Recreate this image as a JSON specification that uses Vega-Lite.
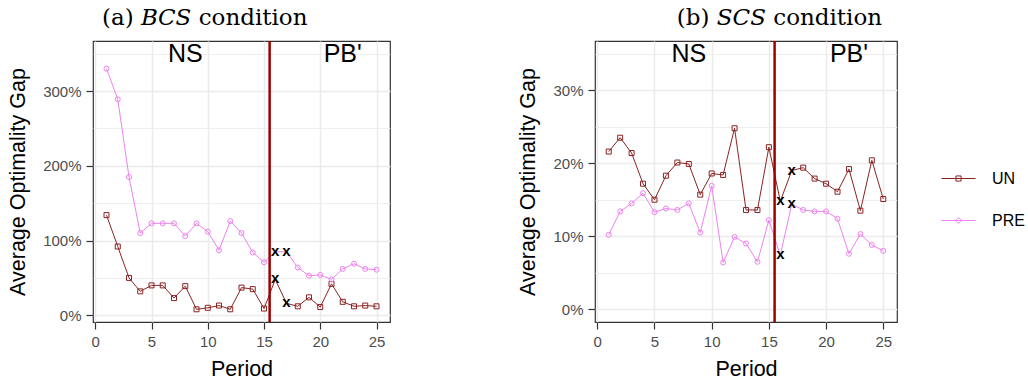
{
  "$schema": "https://vega.github.io/schema/vega-lite/v6.json",
  "background": "white",
  "padding": {"left": 7, "top": 6, "right": 5, "bottom": 5},
  "datasets": {
    "bcs": [
      {"period":1,"series":"UN","value":1.34},{"period":2,"series":"UN","value":0.92},{"period":3,"series":"UN","value":0.50},{"period":4,"series":"UN","value":0.32},{"period":5,"series":"UN","value":0.40},
      {"period":6,"series":"UN","value":0.40},{"period":7,"series":"UN","value":0.23},{"period":8,"series":"UN","value":0.39},{"period":9,"series":"UN","value":0.08},{"period":10,"series":"UN","value":0.10},
      {"period":11,"series":"UN","value":0.13},{"period":12,"series":"UN","value":0.08},{"period":13,"series":"UN","value":0.37},{"period":14,"series":"UN","value":0.35},{"period":15,"series":"UN","value":0.09},
      {"period":16,"series":"UN","value":0.48},{"period":17,"series":"UN","value":0.16},{"period":18,"series":"UN","value":0.12},{"period":19,"series":"UN","value":0.24},{"period":20,"series":"UN","value":0.11},
      {"period":21,"series":"UN","value":0.42},{"period":22,"series":"UN","value":0.18},{"period":23,"series":"UN","value":0.12},{"period":24,"series":"UN","value":0.13},{"period":25,"series":"UN","value":0.12},
      {"period":1,"series":"PRE","value":3.30},{"period":2,"series":"PRE","value":2.89},{"period":3,"series":"PRE","value":1.85},{"period":4,"series":"PRE","value":1.10},{"period":5,"series":"PRE","value":1.23},
      {"period":6,"series":"PRE","value":1.23},{"period":7,"series":"PRE","value":1.23},{"period":8,"series":"PRE","value":1.06},{"period":9,"series":"PRE","value":1.23},{"period":10,"series":"PRE","value":1.12},
      {"period":11,"series":"PRE","value":0.87},{"period":12,"series":"PRE","value":1.26},{"period":13,"series":"PRE","value":1.10},{"period":14,"series":"PRE","value":0.84},{"period":15,"series":"PRE","value":0.71},
      {"period":16,"series":"PRE","value":0.85},{"period":17,"series":"PRE","value":0.85},{"period":18,"series":"PRE","value":0.64},{"period":19,"series":"PRE","value":0.53},{"period":20,"series":"PRE","value":0.54},
      {"period":21,"series":"PRE","value":0.48},{"period":22,"series":"PRE","value":0.62},{"period":23,"series":"PRE","value":0.69},{"period":24,"series":"PRE","value":0.62},{"period":25,"series":"PRE","value":0.61}
    ],
    "scs": [
      {"period":1,"series":"UN","value":0.216},{"period":2,"series":"UN","value":0.235},{"period":3,"series":"UN","value":0.214},{"period":4,"series":"UN","value":0.172},{"period":5,"series":"UN","value":0.150},
      {"period":6,"series":"UN","value":0.183},{"period":7,"series":"UN","value":0.201},{"period":8,"series":"UN","value":0.199},{"period":9,"series":"UN","value":0.157},{"period":10,"series":"UN","value":0.186},
      {"period":11,"series":"UN","value":0.184},{"period":12,"series":"UN","value":0.248},{"period":13,"series":"UN","value":0.136},{"period":14,"series":"UN","value":0.136},{"period":15,"series":"UN","value":0.222},
      {"period":16,"series":"UN","value":0.148},{"period":17,"series":"UN","value":0.190},{"period":18,"series":"UN","value":0.194},{"period":19,"series":"UN","value":0.179},{"period":20,"series":"UN","value":0.172},
      {"period":21,"series":"UN","value":0.161},{"period":22,"series":"UN","value":0.192},{"period":23,"series":"UN","value":0.135},{"period":24,"series":"UN","value":0.204},{"period":25,"series":"UN","value":0.151},
      {"period":1,"series":"PRE","value":0.102},{"period":2,"series":"PRE","value":0.134},{"period":3,"series":"PRE","value":0.145},{"period":4,"series":"PRE","value":0.159},{"period":5,"series":"PRE","value":0.133},
      {"period":6,"series":"PRE","value":0.138},{"period":7,"series":"PRE","value":0.136},{"period":8,"series":"PRE","value":0.145},{"period":9,"series":"PRE","value":0.105},{"period":10,"series":"PRE","value":0.169},
      {"period":11,"series":"PRE","value":0.064},{"period":12,"series":"PRE","value":0.099},{"period":13,"series":"PRE","value":0.090},{"period":14,"series":"PRE","value":0.065},{"period":15,"series":"PRE","value":0.122},
      {"period":16,"series":"PRE","value":0.074},{"period":17,"series":"PRE","value":0.144},{"period":18,"series":"PRE","value":0.136},{"period":19,"series":"PRE","value":0.134},{"period":20,"series":"PRE","value":0.134},
      {"period":21,"series":"PRE","value":0.124},{"period":22,"series":"PRE","value":0.076},{"period":23,"series":"PRE","value":0.103},{"period":24,"series":"PRE","value":0.088},{"period":25,"series":"PRE","value":0.080}
    ],
    "bcs_labels": [{"period":8,"value":3.5,"label":"NS"},{"period":22,"value":3.5,"label":"PB'"}],
    "scs_labels": [{"period":8,"value":0.35,"label":"NS"},{"period":22,"value":0.35,"label":"PB'"}]
  },
  "hconcat": [
    {
      "width": 297,
      "height": 281,
      "title": {"text": "(a) 𝐵𝐶𝑆 condition", "dx": 6},
      "layer": [
        {
          "data": {"name": "bcs"},
          "mark": {"type": "line", "strokeWidth": 1, "clip": true},
          "encoding": {
            "x": {"field": "period", "type": "quantitative", "scale": {"domain": [-0.2, 26.2], "nice": false, "zero": false},
                  "axis": {"title": "Period", "values": [0,2.5,5,7.5,10,12.5,15,17.5,20,22.5,25],
                           "labelExpr": "datum.value % 5 === 0 ? datum.label : ''",
                           "gridWidth": {"condition": {"test": "datum.value % 5 === 0", "value": 1.5}, "value": 0.8},
                           "tickOpacity": {"condition": {"test": "datum.value % 5 === 0", "value": 1}, "value": 0}}},
            "y": {"field": "value", "type": "quantitative", "scale": {"domain": [-0.09, 3.67], "nice": false, "zero": false},
                  "axis": {"title": "Average Optimality Gap", "format": ".0%", "values": [0,0.5,1,1.5,2,2.5,3,3.5],
                           "labelExpr": "round(datum.value*10) % 10 === 0 ? datum.label : ''",
                           "gridWidth": {"condition": {"test": "round(datum.value*10) % 10 === 0", "value": 1.5}, "value": 0.8},
                           "tickOpacity": {"condition": {"test": "round(datum.value*10) % 10 === 0", "value": 1}, "value": 0}}},
            "color": {"field": "series", "type": "nominal", "scale": {"domain": ["UN","PRE"], "range": ["#8B2323","#EE82EE"]}}
          }
        },
        {
          "data": {"name": "bcs"},
          "transform": [{"filter": "datum.period != 16 && datum.period != 17"}],
          "mark": {"type": "point", "filled": false, "size": 25, "strokeWidth": 1, "opacity": 1},
          "encoding": {
            "x": {"field": "period", "type": "quantitative"},
            "y": {"field": "value", "type": "quantitative"},
            "color": {"field": "series", "type": "nominal"},
            "shape": {"condition": {"test": "datum.series === 'UN'", "value": "square"}, "value": "circle"}
          }
        },
        {
          "data": {"values": [{}]},
          "mark": {"type": "rule", "color": "#9E0000", "strokeWidth": 2.5},
          "encoding": {"x": {"datum": 15.5}}
        },
        {
          "data": {"name": "bcs"},
          "transform": [{"filter": "datum.period == 16 || datum.period == 17"}],
          "mark": {"type": "text", "text": "x", "font": "Liberation Sans", "fontWeight": "bold", "fontSize": 15, "baseline": "middle", "align": "center", "color": "black", "dy": -1},
          "encoding": {
            "x": {"field": "period", "type": "quantitative"},
            "y": {"field": "value", "type": "quantitative"}
          }
        },
        {
          "data": {"name": "bcs_labels"},
          "mark": {"type": "text", "font": "Liberation Sans", "fontSize": 25, "baseline": "middle", "align": "center", "color": "black"},
          "encoding": {
            "x": {"field": "period", "type": "quantitative"},
            "y": {"field": "value", "type": "quantitative"},
            "text": {"field": "label"}
          }
        }
      ]
    },
    {
      "width": 302,
      "height": 281,
      "title": {"text": "(b) 𝑆𝐶𝑆 condition", "dx": 72},
      "layer": [
        {
          "data": {"name": "scs"},
          "mark": {"type": "line", "strokeWidth": 1, "clip": true},
          "encoding": {
            "x": {"field": "period", "type": "quantitative", "scale": {"domain": [-0.2, 26.2], "nice": false, "zero": false},
                  "axis": {"title": "Period", "values": [0,2.5,5,7.5,10,12.5,15,17.5,20,22.5,25],
                           "labelExpr": "datum.value % 5 === 0 ? datum.label : ''",
                           "gridWidth": {"condition": {"test": "datum.value % 5 === 0", "value": 1.5}, "value": 0.8},
                           "tickOpacity": {"condition": {"test": "datum.value % 5 === 0", "value": 1}, "value": 0}}},
            "y": {"field": "value", "type": "quantitative", "scale": {"domain": [-0.0175, 0.3675], "nice": false, "zero": false},
                  "axis": {"title": "Average Optimality Gap", "format": ".0%", "values": [0,0.05,0.1,0.15,0.2,0.25,0.3,0.35],
                           "labelExpr": "round(datum.value*100) % 10 === 0 ? datum.label : ''",
                           "gridWidth": {"condition": {"test": "round(datum.value*100) % 10 === 0", "value": 1.5}, "value": 0.8},
                           "tickOpacity": {"condition": {"test": "round(datum.value*100) % 10 === 0", "value": 1}, "value": 0}}},
            "color": {"field": "series", "type": "nominal", "scale": {"domain": ["UN","PRE"], "range": ["#8B2323","#EE82EE"]}}
          }
        },
        {
          "data": {"name": "scs"},
          "transform": [{"filter": "datum.period != 16 && datum.period != 17"}],
          "mark": {"type": "point", "filled": false, "size": 25, "strokeWidth": 1, "opacity": 1},
          "encoding": {
            "x": {"field": "period", "type": "quantitative"},
            "y": {"field": "value", "type": "quantitative"},
            "color": {"field": "series", "type": "nominal"},
            "shape": {"condition": {"test": "datum.series === 'UN'", "value": "square"}, "value": "circle"}
          }
        },
        {
          "data": {"name": "scs"},
          "transform": [{"filter": "false"}],
          "mark": {"type": "point", "filled": false, "strokeWidth": 1},
          "encoding": {
            "x": {"field": "period", "type": "quantitative"},
            "y": {"field": "value", "type": "quantitative"},
            "color": {"field": "series", "type": "nominal"},
            "shape": {"field": "series", "type": "nominal",
                      "scale": {"domain": ["UN","PRE"], "range": ["M-1,0H1M-0.15,-0.15H0.15V0.15H-0.15Z", "M-1,0H1M-0.14,0A0.14,0.14 0 1,0 0.14,0A0.14,0.14 0 1,0 -0.14,0"]}}
          }
        },
        {
          "data": {"values": [{}]},
          "mark": {"type": "rule", "color": "#9E0000", "strokeWidth": 2.5},
          "encoding": {"x": {"datum": 15.5}}
        },
        {
          "data": {"name": "scs"},
          "transform": [{"filter": "datum.period == 16 || datum.period == 17"}],
          "mark": {"type": "text", "text": "x", "font": "Liberation Sans", "fontWeight": "bold", "fontSize": 15, "baseline": "middle", "align": "center", "color": "black", "dy": -1},
          "encoding": {
            "x": {"field": "period", "type": "quantitative"},
            "y": {"field": "value", "type": "quantitative"}
          }
        },
        {
          "data": {"name": "scs_labels"},
          "mark": {"type": "text", "font": "Liberation Sans", "fontSize": 25, "baseline": "middle", "align": "center", "color": "black"},
          "encoding": {
            "x": {"field": "period", "type": "quantitative"},
            "y": {"field": "value", "type": "quantitative"},
            "text": {"field": "label"}
          }
        }
      ]
    }
  ],
  "spacing": 126,
  "resolve": {"scale": {"y": "independent"}},
  "config": {
    "view": {"stroke": "#333333", "strokeWidth": 1.2},
    "axis": {"domain": false, "grid": true, "gridColor": "#EBEBEB", "tickColor": "#333333", "tickWidth": 1.2,
             "labelFont": "Liberation Sans", "labelFontSize": 15, "labelColor": "#4D4D4D", "labelOverlap": false,
             "titleFont": "Liberation Sans", "titleFontSize": 21.5, "titleFontWeight": "normal", "titleColor": "black"},
    "axisY": {"titlePadding": 13, "labelPadding": 5, "tickSize": 7},
    "axisX": {"titlePadding": 9, "labelPadding": 5, "tickSize": 7},
    "legend": {"title": null, "orient": "none", "legendX": 848, "legendY": 120, "padding": 0,
               "labelFont": "Liberation Sans", "labelFontSize": 16, "labelColor": "black", "labelOffset": 16,
               "symbolSize": 1156, "symbolStrokeWidth": 1, "symbolOpacity": 1, "rowPadding": 16},
    "title": {"font": "DejaVu Serif", "fontSize": 23, "fontWeight": "normal", "color": "black", "anchor": "middle", "frame": "bounds", "offset": 10}
  }
}
